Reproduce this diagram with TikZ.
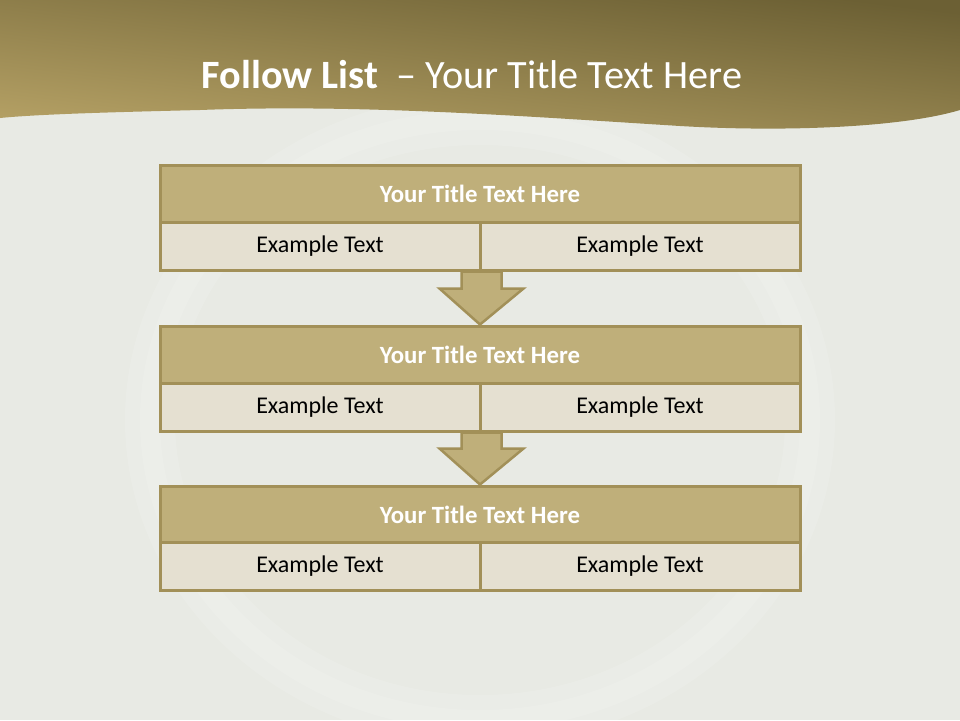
\documentclass[tikz,border=0pt]{standalone}
\usepackage{fontspec}
\setmainfont{Carlito}
\usepackage{tikz}
\usetikzlibrary{arrows.meta,positioning,calc}
\usepackage{xcolor}
\definecolor{pagebg}{RGB}{232,234,228}
\definecolor{golddark}{RGB}{108,96,52}
\definecolor{goldlight}{RGB}{180,160,100}
\definecolor{edgegold}{RGB}{162,144,88}
\definecolor{bandgold}{RGB}{191,175,122}
\definecolor{rowcream}{RGB}{229,224,209}

\begin{document}
\begin{tikzpicture}[x=1pt, y=-1pt,
    band/.style={draw=edgegold, line width=3pt, fill=bandgold, minimum width=640pt, minimum height=57pt, inner sep=0pt, text=white, font=\fontsize{24.8}{28}\selectfont\bfseries},
    cell/.style={draw=edgegold, line width=3pt, fill=rowcream, minimum width=320pt, minimum height=48pt, inner sep=0pt, text=black, font=\fontsize{24}{28}\selectfont},
    flow/.style={draw=edgegold, line width=2.5pt, fill=bandgold, line join=miter}
]
\useasboundingbox (0,0) rectangle (960,720);
% background and faint plate
\fill[pagebg] (0,0) rectangle (960,720);
\draw[white, line width=50pt, opacity=0.12] (480,420) ellipse (330 and 300);
\draw[white, line width=20pt, opacity=0.12] (480,420) ellipse (330 and 300);
% header wave
\shade[top color=golddark, bottom color=goldlight, shading angle=-7]
  (0,0) -- (960,0) -- (960,110)
  .. controls (900,128) and (780,132) .. (680,126)
  .. controls (520,116) and (360,104) .. (200,110)
  .. controls (120,112) and (40,114) .. (0,118) -- cycle;
\node[text=white, font=\fontsize{40.2}{46}\selectfont] (title) at (472,75) {\textbf{Follow List} \ – Your Title Text Here};

% first box
\node[band] (head1) at (480,193.5) {Your Title Text Here};
\node[cell] (left1) at (320,246) {Example Text};
\node[cell] (right1) at (640,246) {Example Text};
% second box
\node[band] (head2) at (480,354.5) {Your Title Text Here};
\node[cell] (left2) at (320,407) {Example Text};
\node[cell] (right2) at (640,407) {Example Text};
% third box
\node[band] (head3) at (480,514.5) {Your Title Text Here};
\node[cell] (left3) at (320,566) {Example Text};
\node[cell] (right3) at (640,566) {Example Text};

% block arrows between boxes
\draw[flow] ($(left1.south east)+(-20,0)$) -- ($(left1.south east)+(20,0)$) -- ($(left1.south east)+(20,17)$)
  -- ($(left1.south east)+(42,17)$) -- (head2.north) -- ($(left1.south east)+(-42,17)$)
  -- ($(left1.south east)+(-20,17)$) -- cycle;
\draw[flow] ($(left2.south east)+(-20,0)$) -- ($(left2.south east)+(20,0)$) -- ($(left2.south east)+(20,16)$)
  -- ($(left2.south east)+(42,16)$) -- (head3.north) -- ($(left2.south east)+(-42,16)$)
  -- ($(left2.south east)+(-20,16)$) -- cycle;
\end{tikzpicture}
\end{document}
